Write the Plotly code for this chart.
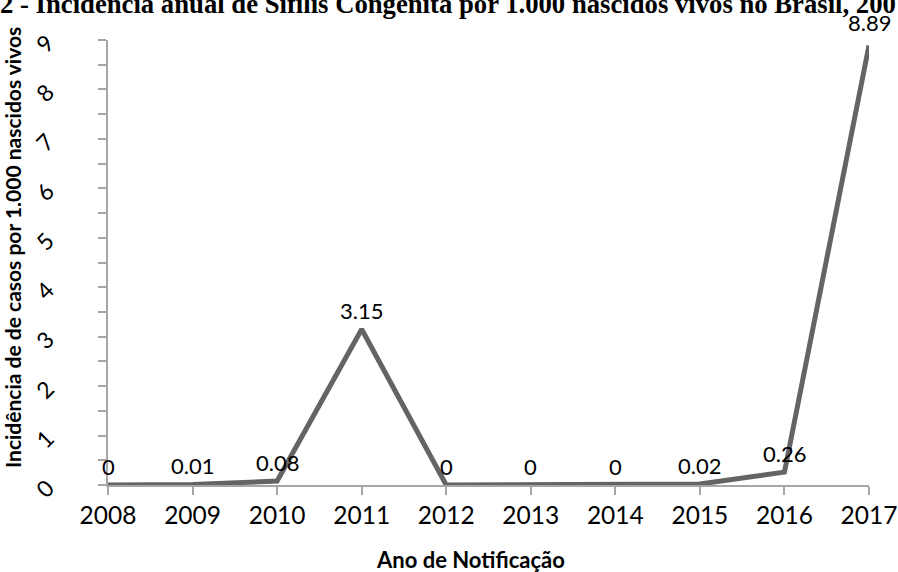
import plotly.graph_objects as go

anos = [2008, 2009, 2010, 2011, 2012, 2013, 2014, 2015, 2016, 2017]
incidencia = [0, 0.01, 0.08, 3.15, 0, 0, 0, 0.02, 0.26, 8.89]
rotulos = ["0", "0.01", "0.08", "3.15", "0", "0", "0", "0.02", "0.26", "8.89"]
y_ticks = [0, 1, 2, 3, 4, 5, 6, 7, 8, 9]

titulo = "2 - Incidência anual de Sífilis Congênita por 1.000 nascidos vivos no Brasil, 200"
titulo_x = "Ano de Notificação"
titulo_y = "Incidência de de casos por 1.000 nascidos vivos"

L, R, T, B = 108, 29, 40, 87
W, H = 898, 572

fig = go.Figure()
fig.add_trace(go.Scatter(
    x=anos, y=incidencia, mode="lines",
    line=dict(color="#646464", width=5), cliponaxis=False,
    hoverinfo="skip", showlegend=False,
))

annotations = []
for i, (a, v, t) in enumerate(zip(anos, incidencia, rotulos)):
    annotations.append(dict(
        x=a, y=v, xref="x", yref="y", text=t, showarrow=False,
        xanchor="center", yanchor="middle",
        yshift=23 if i == len(anos) - 1 else 19,
        font=dict(family="Lato", size=22, color="#000000"),
    ))

annotations.append(dict(
    text="<b>" + titulo + "</b>", xref="paper", yref="paper",
    x=(448 - L) / (W - L - R), y=1.0, yshift=T - 3.5,
    xanchor="center", yanchor="middle", showarrow=False,
    font=dict(family="Liberation Serif", size=26.7, color="#000000"),
))
annotations.append(dict(
    text="<b>" + titulo_x + "</b>", xref="paper", yref="paper",
    x=(470 - L) / (W - L - R), y=0, yshift=-(559 - (H - B)),
    xanchor="center", yanchor="middle", showarrow=False,
    font=dict(family="Lato", size=22, color="#000000"),
))
annotations.append(dict(
    text="<b>" + titulo_y + "</b>", xref="paper", yref="paper",
    x=0, xshift=-(L - 13), y=((H - B) - 248) / (H - B - T),
    xanchor="center", yanchor="middle", textangle=-90, showarrow=False,
    font=dict(family="Lato", size=21, color="#000000"),
))

fig.update_layout(
    width=W, height=H,
    margin=dict(l=L, r=R, t=T, b=B, autoexpand=False),
    paper_bgcolor="white", plot_bgcolor="white",
    font=dict(family="Lato", color="#000000"),
    xaxis=dict(
        range=[2008, 2017], tickmode="array", tickvals=anos,
        ticktext=[str(a) for a in anos], automargin=False,
        showgrid=False, zeroline=False, showline=True, linecolor="#a6a6a6", linewidth=1.5,
        ticks="outside", ticklen=8, tickcolor="#a6a6a6", tickwidth=1.5,
        tickfont=dict(family="Lato", size=24.5),
    ),
    yaxis=dict(
        range=[0, 9], tickmode="array", tickvals=y_ticks,
        ticktext=[str(v) for v in y_ticks], tickangle=-45, automargin=False,
        showgrid=False, zeroline=False, showline=True, linecolor="#a6a6a6", linewidth=1.5,
        ticks="outside", ticklen=8, tickcolor="#a6a6a6", tickwidth=1.5,
        minor=dict(dtick=0.5, ticks="outside", ticklen=8, tickcolor="#a6a6a6", tickwidth=1.5),
        tickfont=dict(family="Lato", size=23), ticklabelstandoff=46,
    ),
    annotations=annotations,
)

fig.write_html(
    "out.html",
    config={"displayModeBar": False},
    post_script="document.body.style.margin='0';document.body.style.overflow='hidden';",
)
